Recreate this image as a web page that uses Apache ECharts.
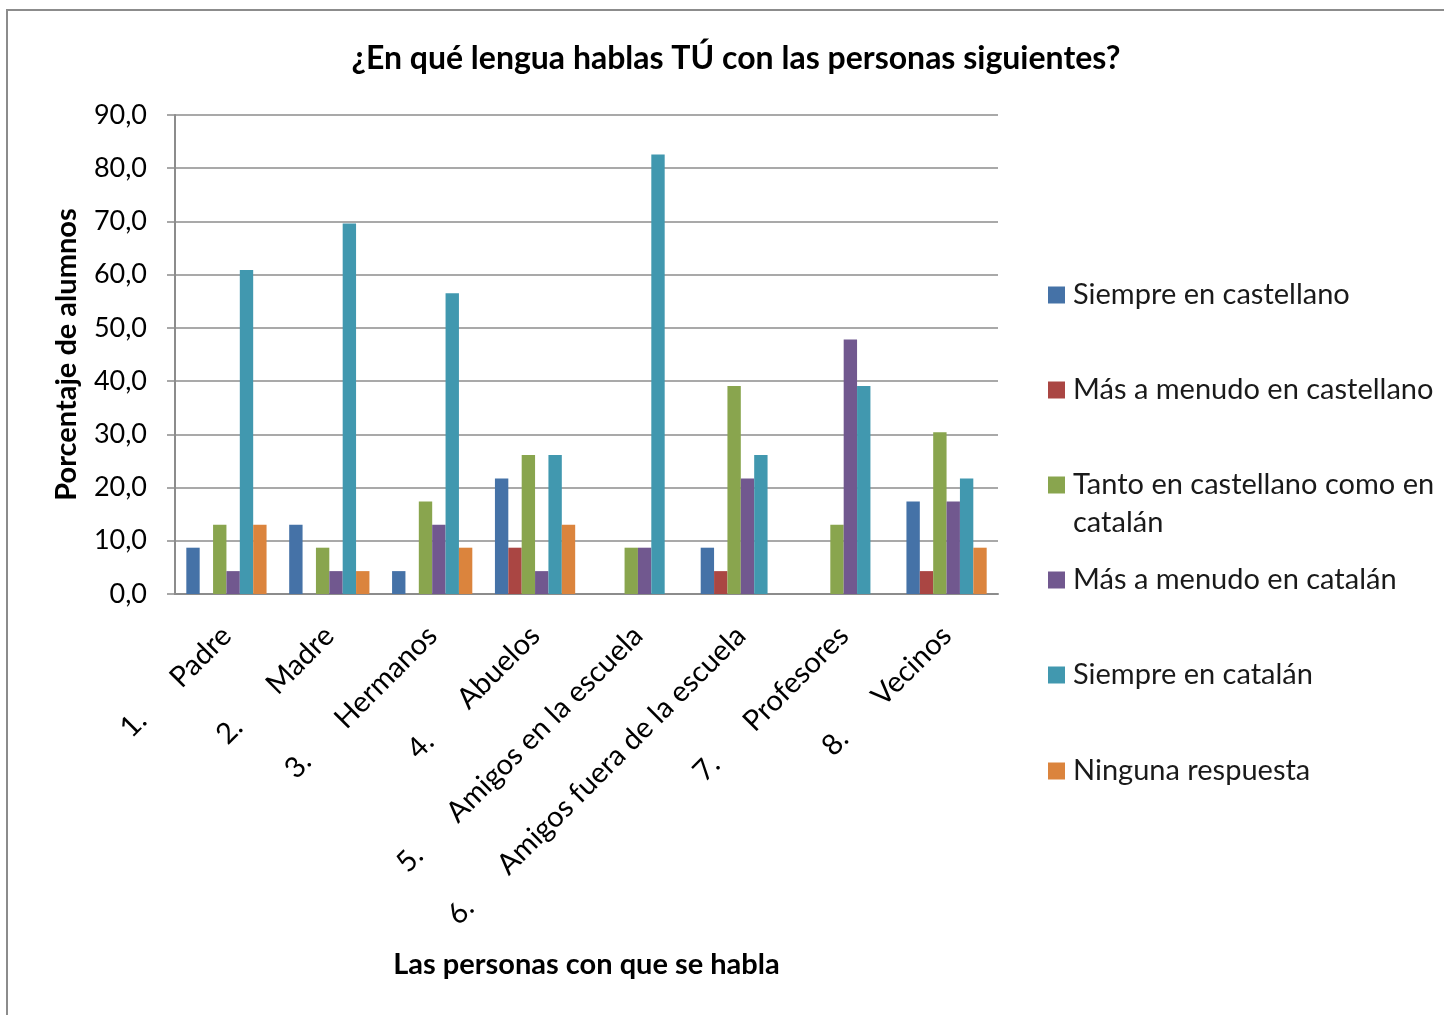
<!DOCTYPE html>
<html><head><meta charset="utf-8">
<script src="https://cdn.jsdelivr.net/npm/echarts@6/dist/echarts.min.js"></script>
<style>html,body{margin:0;padding:0;background:#fff}#c{width:1444px;height:1015px}</style>
</head><body><div id="c"></div>
<script>
const categoryNumbers = ['1.', '2.', '3.', '4.', '5.', '6.', '7.', '8.'];
const categories = ['Padre', 'Madre', 'Hermanos', 'Abuelos', 'Amigos en la escuela', 'Amigos fuera de la escuela', 'Profesores', 'Vecinos'];
const seriesNames = ['Siempre en castellano', 'Más a menudo en castellano', 'Tanto en castellano como en catalán', 'Más a menudo en catalán', 'Siempre en catalán', 'Ninguna respuesta'];
const siempreCastellano = [8.7, 13.0, 4.3, 21.7, 0, 8.7, 0, 17.4];
const masCastellano = [0, 0, 0, 8.7, 0, 4.3, 0, 4.3];
const tanto = [13.0, 8.7, 17.4, 26.1, 8.7, 39.1, 13.0, 30.4];
const masCatalan = [4.3, 4.3, 13.0, 4.3, 8.7, 21.7, 47.8, 17.4];
const siempreCatalan = [60.9, 69.6, 56.5, 26.1, 82.6, 26.1, 39.1, 21.7];
const ninguna = [13.0, 4.3, 8.7, 13.0, 0, 0, 0, 8.7];
const yTicks = [0, 10, 20, 30, 40, 50, 60, 70, 80, 90];

const seriesValues = [siempreCastellano, masCastellano, tanto, masCatalan, siempreCatalan, ninguna];
const colors = ['#4572A7', '#AA4643', '#89A54E', '#71588F', '#4198AF', '#DB843D'];
const FONT = 'Lato';
const chart = echarts.init(document.getElementById('c'));
const legendTops = [276, 371, 428, 561, 656, 752];
const legends = seriesNames.map((n, i) => ({
  data: [n], left: 1048, top: legendTops[i], orient: 'vertical', padding: 0,
  itemWidth: 17, itemHeight: 17, icon: 'rect', selectedMode: false,
  formatter: i === 2 ? ' \nTanto en castellano como en\ncatalán' : '{name}',
  textStyle: { fontFamily: FONT, fontSize: 29, color: '#1a1a1a', lineHeight: 38, padding: [0, 0, 0, 3] }
}));
chart.setOption({
  animation: false,
  color: colors,
  title: {
    text: '¿En qué lengua hablas TÚ con las personas siguientes?',
    left: 731, top: 38, textAlign: 'center',
    textStyle: { fontFamily: FONT, fontSize: 32, fontWeight: 'bold', color: '#000' }
  },
  graphic: [{ type: 'rect', shape: { x: 7, y: 10, width: 1500, height: 1100 }, style: { fill: null, stroke: '#8c8c8c', lineWidth: 2 }, silent: true }],
  legend: legends,
  grid: { left: 175, right: 446, top: 115, bottom: 421 },
  xAxis: {
    type: 'category', data: categories.map((c, i) => categoryNumbers[i] + '|' + c),
    name: 'Las personas con que se habla', nameLocation: 'middle', nameGap: 356,
    nameTextStyle: { fontFamily: FONT, fontSize: 29, fontWeight: 'bold', color: '#000' },
    axisLine: { lineStyle: { color: '#8c8c8c', width: 2 } },
    axisTick: { show: false },
    axisLabel: {
      interval: 0, rotate: 45, margin: 37,
      formatter: v => { const p = v.split('|'); return '{n|' + p[0] + '}{t|' + p[1] + '}'; },
      rich: {
        n: { padding: [0, 47, 0, 0], fontFamily: FONT, fontSize: 29, color: '#000' },
        t: { fontFamily: FONT, fontSize: 29, color: '#000' }
      }
    }
  },
  yAxis: {
    type: 'value', min: 0, max: 90, interval: 10,
    name: 'Porcentaje de alumnos', nameLocation: 'middle', nameGap: 94, nameRotate: 90,
    nameTextStyle: { fontFamily: FONT, fontSize: 29, fontWeight: 'bold', color: '#000' },
    axisLine: { show: true, lineStyle: { color: '#8c8c8c', width: 2 } },
    axisTick: { show: true, length: 8, lineStyle: { color: '#8c8c8c', width: 1.5 } },
    splitLine: { lineStyle: { color: '#8c8c8c', width: 1.5 } },
    axisLabel: {
      margin: 28, fontFamily: FONT, fontSize: 27, color: '#000',
      formatter: v => v.toFixed(1).replace('.', ',')
    }
  },
  series: seriesValues.map((d, i) => ({
    type: 'bar', name: seriesNames[i], data: d,
    barGap: '0%', barCategoryGap: '22%',
    itemStyle: { color: colors[i] }
  }))
});
</script></body></html>
